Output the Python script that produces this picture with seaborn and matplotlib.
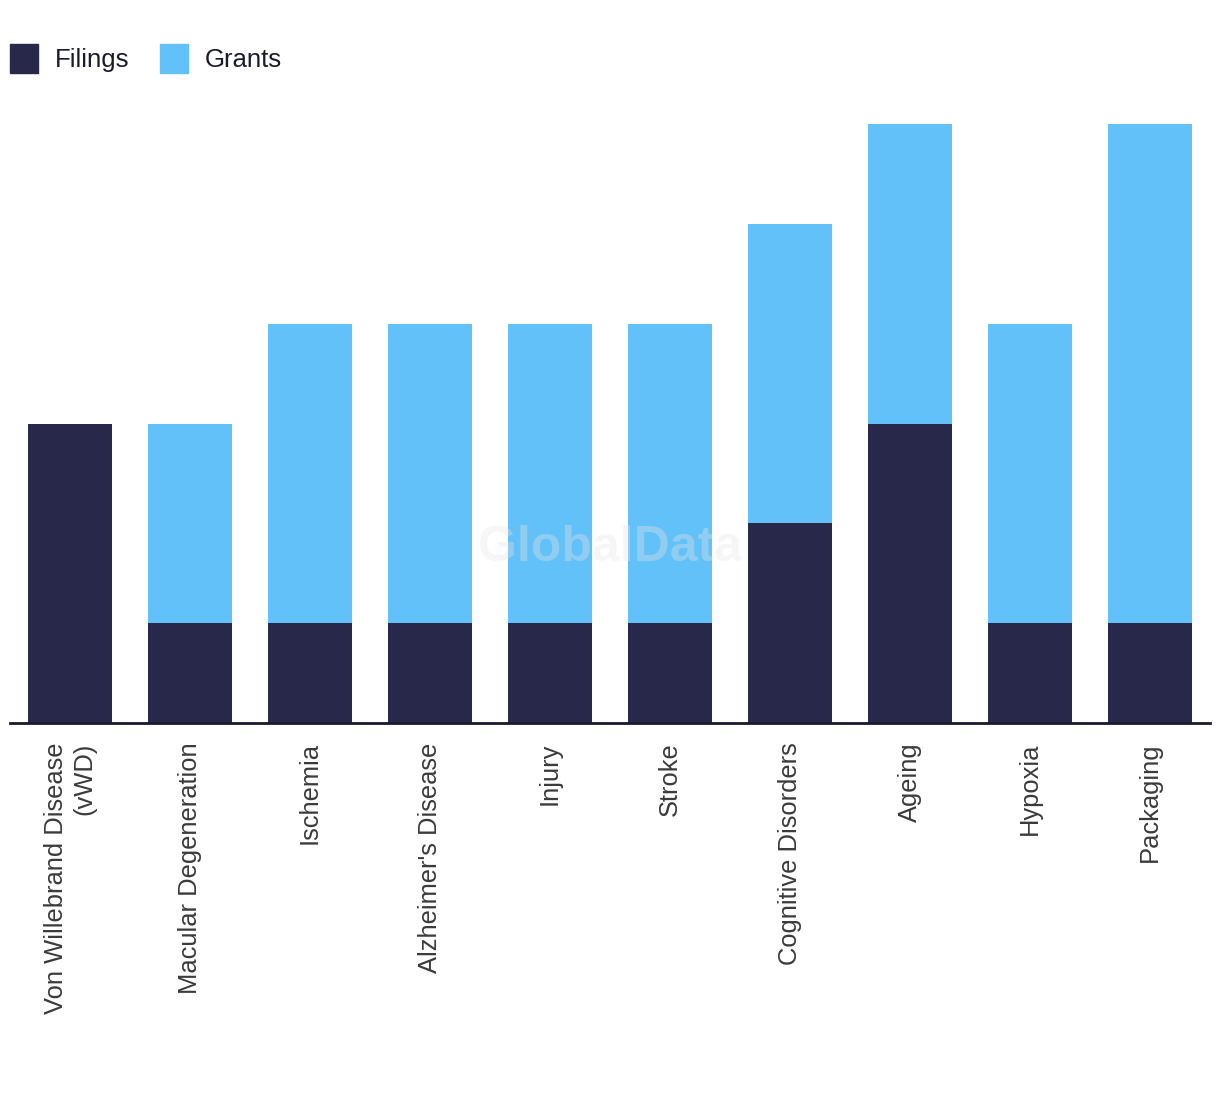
import matplotlib
matplotlib.use("Agg")
import matplotlib.pyplot as plt
import seaborn as sns
import pandas as pd
from matplotlib.patches import Patch

categories = ["Von Willebrand Disease\n(vWD)", "Macular Degeneration", "Ischemia",
              "Alzheimer's Disease", "Injury", "Stroke", "Cognitive Disorders",
              "Ageing", "Hypoxia", "Packaging"]
filings = [3, 1, 1, 1, 1, 1, 2, 3, 1, 1]
grants = [0, 2, 3, 3, 3, 3, 3, 3, 3, 5]

FIL_COLOR = "#27284a"
GRA_COLOR = "#62c1f8"

sns.set_theme(style="white")
plt.rcParams['font.family'] = ['Liberation Sans', 'DejaVu Sans']

df = pd.DataFrame({"category": categories, "filings": filings, "grants": grants})
df["total"] = df["filings"] + df["grants"]

fig = plt.figure(figsize=(12.2, 10.94), dpi=100)
W, H = 1220, 1094
ax = fig.add_axes([10 / W, (H - 723) / H, 1200 / W, (723 - 124) / H])

sns.barplot(data=df, x="category", y="total", color=GRA_COLOR, width=0.7,
            saturation=1, ax=ax, linewidth=0)
sns.barplot(data=df, x="category", y="filings", color=FIL_COLOR, width=0.7,
            saturation=1, ax=ax, linewidth=0)

ax.set_xlim(-0.5, len(categories) - 0.5)
ax.set_ylim(0, 6)
ax.set_xlabel("")
ax.set_ylabel("")
ax.set_yticks([])
for s in ["top", "right", "left"]:
    ax.spines[s].set_visible(False)
ax.spines["bottom"].set_color("#1a1a2e")
ax.spines["bottom"].set_linewidth(2)
ax.tick_params(axis="x", length=0, pad=14)
ax.set_xticks(range(len(categories)))
ax.set_xticklabels(categories, rotation=90, fontsize=18.4, color="#3a3a3a",
                   va="top", ha="center", multialignment="right")

fig.text(610 / W, 1 - 548 / H, "GlobalData", fontsize=36, fontweight="bold",
         color="#e6e6e6", alpha=0.35, ha="center", va="center", zorder=10)

handles = [Patch(color=FIL_COLOR, label="Filings"), Patch(color=GRA_COLOR, label="Grants")]
fig.legend(handles=handles, loc="upper left", bbox_to_anchor=(10 / W, 1 - 44 / H),
           ncol=2, frameon=False, fontsize=18.5, handlelength=1.09, handleheight=1.36,
           handletextpad=0.66, columnspacing=1.18, labelcolor="#1a1a2e",
           borderaxespad=0, borderpad=0)

fig.savefig("out.png", dpi=100, facecolor="white")
